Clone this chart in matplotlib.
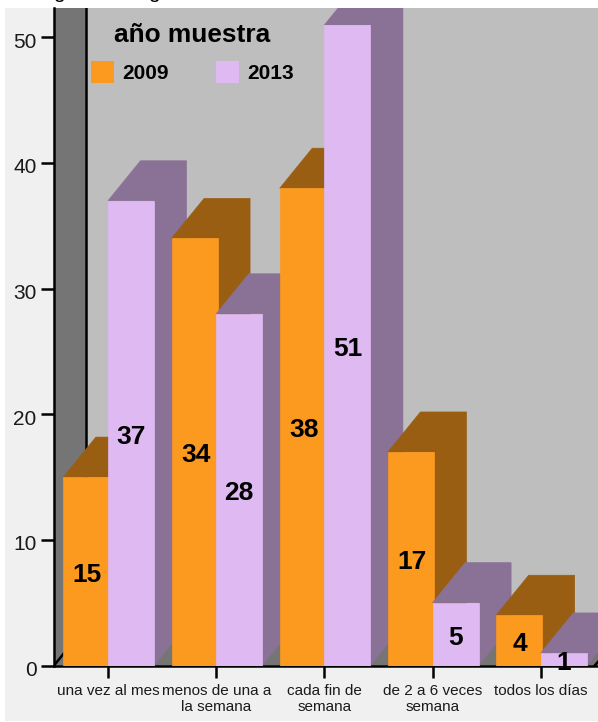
import numpy as np
import matplotlib
matplotlib.use("Agg")
from matplotlib import pyplot as plt
from matplotlib.patches import Patch, Polygon, Rectangle
from matplotlib.transforms import ScaledTranslation

plt.rcParams['font.family'] = ['Liberation Sans', 'DejaVu Sans']

# values
categories = ["una vez al mes", "menos de una a\nla semana", "cada fin de\nsemana",
              "de 2 a 6 veces\nsemana", "todos los días"]
v2009 = [15, 34, 38, 17, 4]
v2013 = [37, 28, 51, 5, 1]
yticks = [0, 10, 20, 30, 40, 50]

orange = "#FC991F"
orange_side = "#995E12"
purple = "#DFB9F2"
purple_side = "#8A7196"
W, H = 598, 722

fig = plt.figure(figsize=(W / 100, H / 100), dpi=100, facecolor="white")
fig.patches.append(Rectangle((5 / W, 1 / H), (W - 5) / W, (H - 9) / H, transform=fig.transFigure,
                             facecolor="#F0F0F0", edgecolor="none", zorder=-1))

# plot area in pixels: left 54, right 598, top 8, baseline 665.5
ax = fig.add_axes([54 / W, (H - 665.5) / H, (W - 54) / W, (665.5 - 8) / H])
ax.set_facecolor("#BEBEBE")
ax.set_xlim((54 - 108) / 108.2, (598 - 108) / 108.2)
ax.set_ylim(0, 657.5 / 12.56)

# depth of the fake 3d, in data units
dx = 32.5 / 108.2
dy = 40 / 12.56
x0, x1 = ax.get_xlim()
ytop = ax.get_ylim()[1]

# floor and left wall
ax.add_patch(Polygon([(x0, 0), (x0 + dx, dy), (x1 + dx, dy), (x1, 0)], facecolor="#757575", zorder=1))
ax.add_patch(Polygon([(x0, 0), (x0 + dx, dy), (x0 + dx, ytop), (x0, ytop)], facecolor="#757575", zorder=1))
ax.plot([x0, x0 + dx, x0 + dx], [0, dy, ytop], color="black", lw=1.8, zorder=1.5)
ax.plot([x1 - 0.03, x1 + dx], [0, dy], color="black", lw=1.8, zorder=1.5)

width = 0.425


def bar3d(x, v, front, side, z):
    l = x - width / 2
    r = x + width / 2
    ax.add_patch(Polygon([(l, v), (l + dx, v + dy), (r + dx, v + dy), (r + dx, dy), (r, 0), (r, v)],
                         facecolor=side, edgecolor=side, lw=0.5, zorder=z))
    ax.bar(x, v, width=width, color=front, edgecolor=front, linewidth=0.5, zorder=z + 0.1)


for i in range(len(categories)):
    bar3d(i - 0.2, v2009[i], orange, orange_side, 2 + i)
    bar3d(i + 0.2125, v2013[i], purple, purple_side, 2.5 + i)
    ax.annotate(str(v2009[i]), (i - 0.19, v2009[i] / 2), xytext=(0, -2.5), textcoords="offset points",
                ha="center", va="center", fontsize=19, fontweight="bold", color="black", zorder=20)
    ax.annotate(str(v2013[i]), (i + 0.2125, v2013[i] / 2), xytext=(0, -2.5), textcoords="offset points",
                ha="center", va="center", fontsize=19, fontweight="bold", color="black", zorder=20,
                annotation_clip=False)

for s in ["top", "right"]:
    ax.spines[s].set_visible(False)
for s in ["left", "bottom"]:
    ax.spines[s].set_linewidth(1.8)
    ax.spines[s].set_zorder(1.5)

ax.set_yticks(yticks)
ax.set_xticks(range(len(categories)))
ax.set_xticklabels(categories, linespacing=1.14)
ax.tick_params(axis="y", length=9.5, width=1.8, pad=3, labelsize=15, labelcolor="#1a1a1a")
ax.tick_params(axis="x", length=8.6, width=1.8, pad=5, labelsize=11, labelcolor="#1a1a1a")
for lab in ax.get_yticklabels():
    lab.set_transform(lab.get_transform() + ScaledTranslation(0, -2 / 72, fig.dpi_scale_trans))

handles = [Patch(facecolor=orange, label="2009"), Patch(facecolor=purple, label="2013")]
leg = ax.legend(handles=handles, title="año muestra", ncol=2, frameon=False, loc="upper left",
                bbox_to_anchor=(91 / W, (H - 23) / H), bbox_transform=fig.transFigure,
                borderaxespad=0, borderpad=0, fontsize=15, title_fontsize=18.9,
                handlelength=1.1, handleheight=1.264, handletextpad=0.38, columnspacing=2.3,
                labelspacing=0.65)
leg.get_title().set_fontweight("bold")
for t in leg.get_texts():
    t.set_fontweight("bold")
leg.set_zorder(30)

# title of the source is cut off by the top edge, only the descenders show
for xp in [59, 154]:
    fig.text(xp / W, (H + 1.5) / H, "g", fontsize=15, color="black", ha="center", va="baseline")

fig.savefig("out.png", dpi=100)
